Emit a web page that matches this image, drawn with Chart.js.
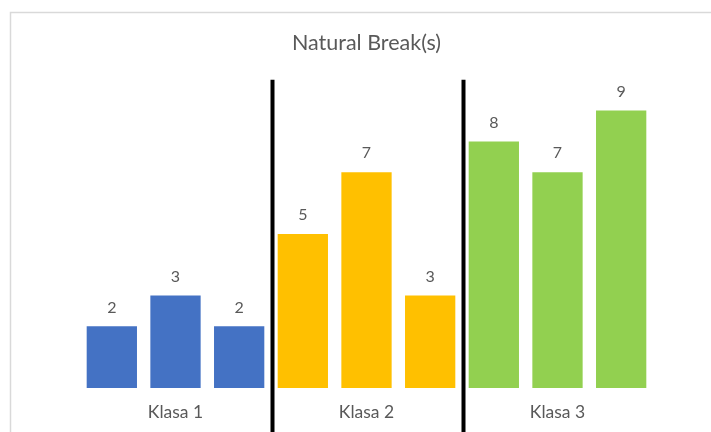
<!DOCTYPE html>
<html>
<head>
<meta charset="utf-8">
<script src="https://cdn.jsdelivr.net/npm/chart.js@4.4.1/dist/chart.umd.min.js"></script>
<style>
  html, body { margin: 0; padding: 0; background: #fff; overflow: hidden; }
  #wrap { position: absolute; left: 0; top: 0; width: 734px; height: 460px; }
</style>
</head>
<body>
<div id="wrap"><canvas id="c" width="734" height="460"></canvas></div>
<script>
// Classes and the values that fall into each of them
const classNames = ['Klasa 1', 'Klasa 2', 'Klasa 3'];
const values = [2, 3, 2, 5, 7, 3, 8, 7, 9];
const classOf = [0, 0, 0, 1, 1, 1, 2, 2, 2];
const classColors = ['#4472C4', '#FFC000', '#92D050'];

const labels = values.map((v, i) => classNames[classOf[i]]);
const TEXT = '#595959';
const FONT = 'Lato, "Open Sans", sans-serif';

// Light frame round the chart
const framePlugin = {
  id: 'frame',
  beforeDraw(chart) {
    const ctx = chart.ctx;
    ctx.save();
    ctx.strokeStyle = '#d9d9d9';
    ctx.lineWidth = 1.5;
    ctx.strokeRect(10.5, 12.5, 713, 440);
    ctx.restore();
  }
};

// Thick black lines at the class breaks
const breaksPlugin = {
  id: 'breaks',
  afterDatasetsDraw(chart) {
    const x = chart.scales.x;
    const ctx = chart.ctx;
    ctx.save();
    ctx.strokeStyle = '#000';
    ctx.lineWidth = 4;
    for (let i = 1; i < values.length; i++) {
      if (classOf[i] !== classOf[i - 1]) {
        const px = (x.getPixelForValue(i - 1) + x.getPixelForValue(i)) / 2 + 1.5;
        ctx.beginPath();
        ctx.moveTo(px, chart.chartArea.top);
        ctx.lineTo(px, chart.height);
        ctx.stroke();
      }
    }
    ctx.restore();
  }
};

// Value labels above the bars
const valueLabels = {
  id: 'valueLabels',
  afterDatasetsDraw(chart) {
    const ctx = chart.ctx;
    const meta = chart.getDatasetMeta(0);
    ctx.save();
    ctx.fillStyle = TEXT;
    ctx.font = '16px ' + FONT;
    ctx.textAlign = 'center';
    ctx.textBaseline = 'middle';
    meta.data.forEach((bar, i) => {
      ctx.fillText(String(values[i]), bar.x, bar.y - 19);
    });
    ctx.restore();
  }
};

new Chart(document.getElementById('c'), {
  type: 'bar',
  data: {
    labels: labels,
    datasets: [{
      data: values,
      backgroundColor: values.map((v, i) => classColors[classOf[i]]),
      borderWidth: 0,
      categoryPercentage: 1,
      barPercentage: 0.79
    }]
  },
  options: {
    responsive: false,
    animation: false,
    events: [],
    layout: { padding: { left: 80, right: 81, top: 0, bottom: 0 } },
    plugins: {
      legend: { display: false },
      tooltip: { enabled: false },
      title: {
        display: true,
        text: 'Natural Break(s)',
        color: TEXT,
        font: { family: FONT, size: 21.5, weight: 'normal', lineHeight: 1.2 },
        padding: { top: 30, bottom: 24 }
      }
    },
    scales: {
      x: {
        grid: { display: false, drawTicks: false },
        border: { display: false },
        ticks: {
          autoSkip: false,
          maxRotation: 0,
          padding: 14,
          color: TEXT,
          font: { family: FONT, size: 17.5 },
          callback: (v, i) => (i > 0 && classOf[i] === classOf[i - 1] && classOf[i + 1] === classOf[i]) ? classNames[classOf[i]] : ''
        },
        afterFit(scale) { scale.height = 72; }
      },
      y: {
        display: false,
        min: 0,
        max: 10
      }
    }
  },
  plugins: [framePlugin, breaksPlugin, valueLabels]
});
</script>
</body>
</html>
